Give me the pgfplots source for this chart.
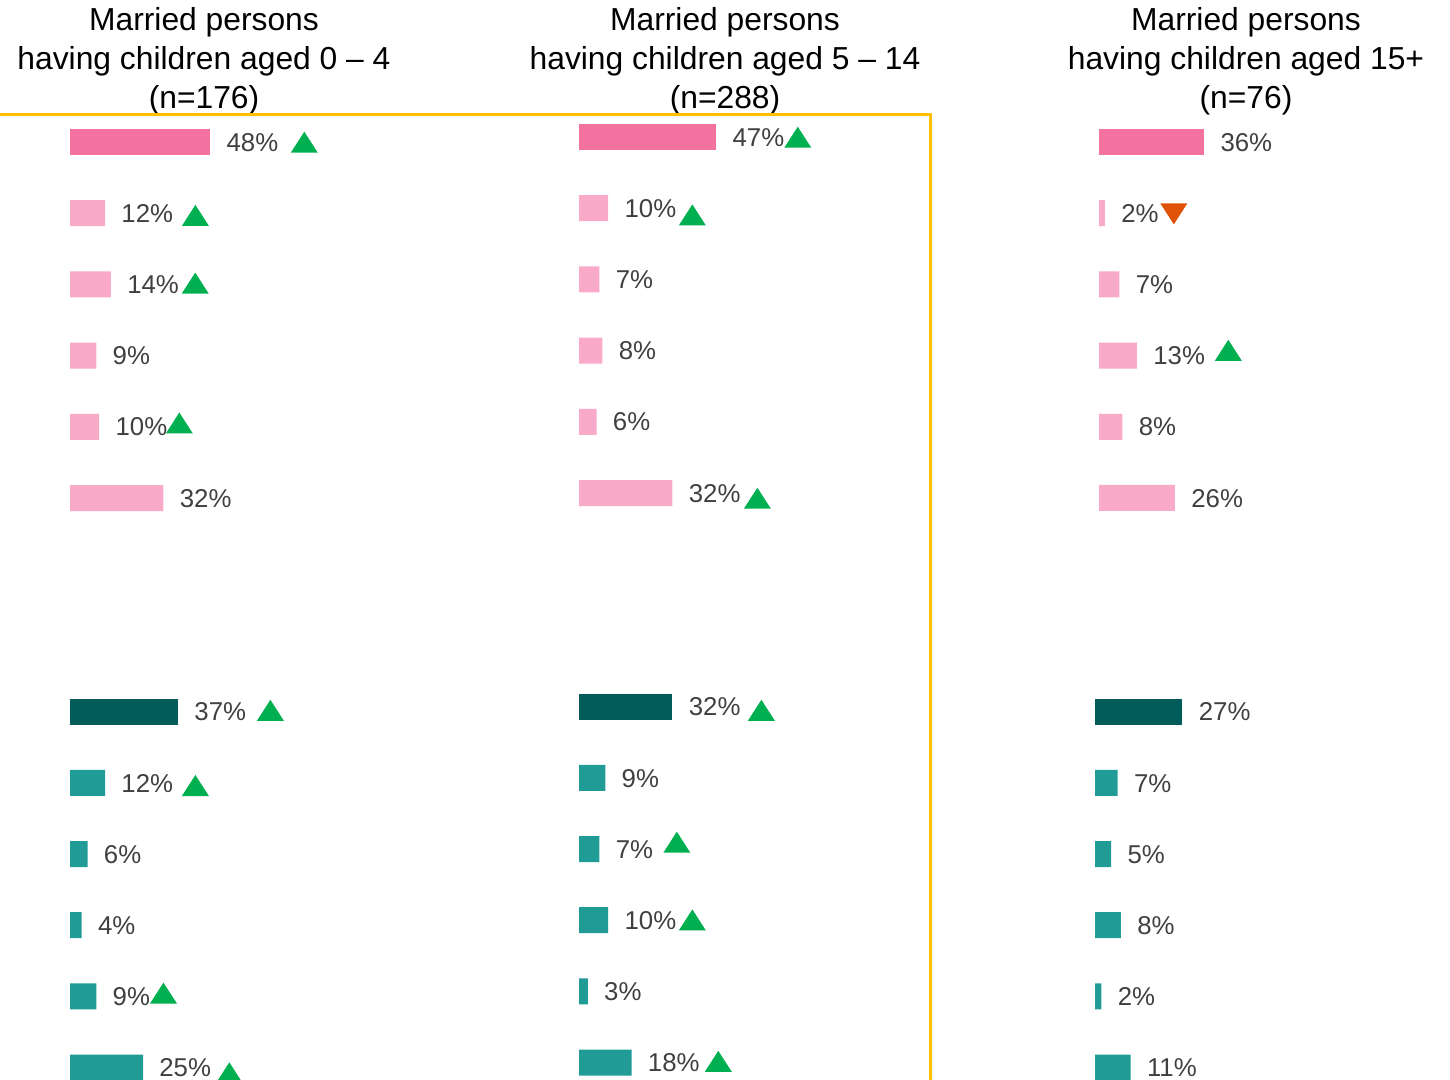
\documentclass[border=0pt]{standalone}
\usepackage{fontspec}
\setmainfont{Liberation Sans}
\usepackage{pgfplots}
\pgfplotsset{compat=1.18}

\definecolor{pinkD}{HTML}{F472A0}
\definecolor{pinkL}{HTML}{F9AAC8}
\definecolor{tealD}{HTML}{005C58}
\definecolor{tealL}{HTML}{209B96}
\definecolor{upg}{HTML}{00B050}
\definecolor{dnor}{HTML}{E05206}
\definecolor{lbl}{HTML}{404040}
\definecolor{boxc}{HTML}{FFC000}

% significance markers inside the value labels: #1 = gap, #2 = raise
\protected\def\up#1#2{\kern#1\raisebox{#2}{\tikz\fill[upg] (0pt,0pt)--(13.5pt,0pt)--(6.75pt,10.5pt)--cycle;}}
\protected\def\dn#1#2{\kern#1\raisebox{#2}{\tikz\fill[dnor] (0pt,10.5pt)--(13.5pt,10.5pt)--(6.75pt,0pt)--cycle;}}

\pgfplotsset{
  panel/.style={
    hide axis, xbar, bar width=13pt, bar shift=0pt,
    x=1.46pt, y=35.6pt, y dir=reverse,
    xmin=0, xmax=60, ymin=-0.5, ymax=13.5,
    enlargelimits=false, clip=false,
    anchor=north west,
    point meta=explicit symbolic,
    nodes near coords={\pgfplotspointmeta},
    nodes near coords style={anchor=base west, inner sep=0pt, xshift=8pt, yshift=-4.6pt,
      font=\fontsize{12.9}{16}\selectfont, text=lbl},
  },
}

\newcommand\ttl[3]{%
  \node[anchor=base, font=\fontsize{15.9}{19}\selectfont] at (#1,524.5pt) {Married persons};
  \node[anchor=base, font=\fontsize{15.9}{19}\selectfont] at (#1,505pt) {having children aged #2};
  \node[anchor=base, font=\fontsize{15.9}{19}\selectfont] at (#1,485.5pt) {(n=#3)};
}

\begin{document}
\begin{tikzpicture}
\useasboundingbox (0,0) rectangle (725pt,540pt);
\clip (0,0) rectangle (725pt,540pt);

\ttl{102pt}{0 -- 4}{176}
\ttl{362.5pt}{5 -- 14}{288}
\ttl{623pt}{15+}{76}

\draw[boxc, line width=1.5pt] (-5pt,482.5pt) -- (465pt,482.5pt) -- (465pt,-5pt);

% aged 0-4
\begin{axis}[panel, at={(35pt,486.8pt)}]
\addplot[fill=pinkD, draw=none] coordinates {(48,0) [{48\%\up{6.3pt}{-0.75pt}}]};
\addplot[fill=pinkL, draw=none] coordinates {
  (12,1) [{12\%\up{4.4pt}{-1.75pt}}]
  (14,2) [{14\%\up{1.4pt}{0pt}}]
  (9,3)  [{9\%}]
  (10,4) [{10\%\up{-0.7pt}{1.25pt}}]
  (32,5) [{32\%}]};
\addplot[fill=tealD, draw=none] coordinates {(37,8) [{37\%\up{5.4pt}{0pt}}]};
\addplot[fill=tealL, draw=none] coordinates {
  (12,9)  [{12\%\up{4.4pt}{-2pt}}]
  (6,10)  [{6\%}]
  (4,11)  [{4\%}]
  (9,12)  [{9\%\up{0pt}{1pt}}]
  (25,13) [{25\%\up{2.4pt}{-3.25pt}}]};
\end{axis}

% aged 5-14
\begin{axis}[panel, at={(289.5pt,489.3pt)}]
\addplot[fill=pinkD, draw=none] coordinates {(47,0) [{47\%\up{0pt}{-0.75pt}}]};
\addplot[fill=pinkL, draw=none] coordinates {
  (10,1) [{10\%\up{1.3pt}{-4pt}}]
  (7,2)  [{7\%}]
  (8,3)  [{8\%}]
  (6,4)  [{6\%}]
  (32,5) [{32\%\up{1.7pt}{-3.25pt}}]};
\addplot[fill=tealD, draw=none] coordinates {(32,8) [{32\%\up{3.7pt}{-2.5pt}}]};
\addplot[fill=tealL, draw=none] coordinates {
  (9,9)   [{9\%}]
  (7,10)  [{7\%\up{5.1pt}{2.75pt}}]
  (10,11) [{10\%\up{1.3pt}{-0.5pt}}]
  (3,12)  [{3\%}]
  (18,13) [{18\%\up{2.6pt}{0pt}}]};
\end{axis}

% aged 15+
\begin{axis}[panel, at={(549.5pt,486.8pt)}]
\addplot[fill=pinkD, draw=none] coordinates {(36,0) [{36\%}]};
\addplot[fill=pinkL, draw=none] coordinates {
  (2,1)  [{2\%\dn{0.9pt}{-1pt}}]
  (7,2)  [{7\%}]
  (13,3) [{13\%\up{4.9pt}{2pt}}]
  (8,4)  [{8\%}]
  (26,5) [{26\%}]};
\end{axis}
\begin{axis}[panel, x=1.62pt, at={(547.5pt,486.8pt)}]
\addplot[fill=tealD, draw=none] coordinates {(27,8) [{27\%}]};
\addplot[fill=tealL, draw=none] coordinates {
  (7,9)   [{7\%}]
  (5,10)  [{5\%}]
  (8,11)  [{8\%}]
  (2,12)  [{2\%}]
  (11,13) [{11\%}]};
\end{axis}
\end{tikzpicture}
\end{document}
